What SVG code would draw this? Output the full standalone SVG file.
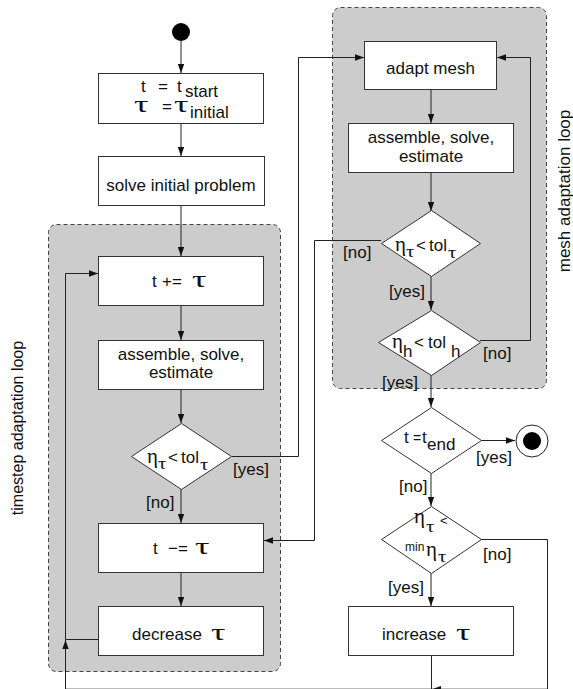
<svg xmlns="http://www.w3.org/2000/svg" width="573" height="689" viewBox="0 0 573 689">
  <style>
    .txt { font-family: "Liberation Sans", Arial, sans-serif; font-size: 17px; fill: #111; }
    .sm { font-size: 12px; }
    .gr { font-family: "Liberation Serif", "DejaVu Serif", serif; fill: #111; }
    .big { font-size: 24px; }
    .eta { font-size: 21px; }
    .sub { font-size: 16px; }
    .box { fill: #ffffff; stroke: #333; stroke-width: 1; }
    .region { fill: #cccccc; stroke: #444; stroke-width: 1; stroke-dasharray: 4 3; }
    .edge { fill: none; stroke: #222; stroke-width: 1; }
    .side { font-family: "Liberation Sans", Arial, sans-serif; font-size: 16px; fill: #111; }
  </style>
  <defs>
    <marker id="arrow" viewBox="0 0 10 7" refX="10" refY="3.5" markerWidth="9" markerHeight="6.3" markerUnits="userSpaceOnUse" orient="auto">
      <path d="M0,0 L10,3.5 L0,7 z" fill="#111"/>
    </marker>
  </defs>

  <rect width="573" height="689" fill="#ffffff"/>

  <!-- loop regions -->
  <g id="timestep-loop">
    <rect class="region" x="48.5" y="224.5" width="232" height="447" rx="8"/>
    <text class="side" transform="translate(23,428) rotate(-90)" text-anchor="middle">timestep adaptation loop</text>
  </g>
  <g id="mesh-loop">
    <rect class="region" x="332.5" y="7.5" width="214" height="381" rx="8"/>
    <text class="side" style="font-size:17px" transform="translate(570,191) rotate(-90)" text-anchor="middle">mesh adaptation loop</text>
  </g>

  <!-- connectors -->
  <g id="connectors">
    <path class="edge" d="M181,41 V73" marker-end="url(#arrow)"/>
    <path class="edge" d="M181,124 V156" marker-end="url(#arrow)"/>
    <path class="edge" d="M181,206 V256" marker-end="url(#arrow)"/>
    <path class="edge" d="M181,306 V340" marker-end="url(#arrow)"/>
    <path class="edge" d="M181,390 V423" marker-end="url(#arrow)"/>
    <path class="edge" d="M181,489 V523" marker-end="url(#arrow)"/>
    <path class="edge" d="M181,573 V606" marker-end="url(#arrow)"/>
    <path class="edge" d="M98,639.5 H65.5 V273.5 H98" marker-end="url(#arrow)"/>
    <path class="edge" d="M232,456.5 H298.5 V57.5 H364" marker-end="url(#arrow)"/>
    <path class="edge" d="M431,90 V123" marker-end="url(#arrow)"/>
    <path class="edge" d="M431,173 V211" marker-end="url(#arrow)"/>
    <path class="edge" d="M381,240.5 H314.5 V540.5 H264" marker-end="url(#arrow)"/>
    <path class="edge" d="M431,276 V310" marker-end="url(#arrow)"/>
    <path class="edge" d="M480,340.5 H530.5 V57.5 H497" marker-end="url(#arrow)"/>
    <path class="edge" d="M431,375 V407" marker-end="url(#arrow)"/>
    <path class="edge" d="M481,440.5 H515" marker-end="url(#arrow)"/>
    <path class="edge" d="M431,473 V506" marker-end="url(#arrow)"/>
    <path class="edge" d="M431,573 V606" marker-end="url(#arrow)"/>
    <path class="edge" d="M481,539.5 H547.5 V689.2 H432" marker-end="url(#arrow)"/>
    <path class="edge" d="M431.5,656 V689.2 H65.5 V640" marker-end="url(#arrow)"/>
    <!-- edge guards -->
    <text class="txt" x="233" y="475">[yes]</text>
    <text class="txt" x="146" y="508">[no]</text>
    <text class="txt" x="343" y="258">[no]</text>
    <text class="txt" x="389" y="297">[yes]</text>
    <text class="txt" x="483" y="359">[no]</text>
    <text class="txt" x="382" y="388">[yes]</text>
    <text class="txt" x="476" y="463">[yes]</text>
    <text class="txt" x="399" y="492">[no]</text>
    <text class="txt" x="483" y="560">[no]</text>
    <text class="txt" x="388" y="593">[yes]</text>
  </g>

  <!-- nodes -->
  <g id="start">
    <circle cx="181" cy="32" r="9" fill="#000"/>
  </g>
  <g id="init">
    <rect class="box" x="98.5" y="73.5" width="165" height="50"/>
    <text class="txt" x="141" y="92">t</text>
    <text class="txt" x="158" y="92">=</text>
    <text class="txt" x="177" y="92">t</text>
    <text class="txt" x="185" y="97">start</text>
    <text class="gr big" transform="translate(134,112) scale(1.5,1)">τ</text>
    <text class="txt" x="162" y="112">=</text>
    <text class="gr big" transform="translate(174,112) scale(1.5,1)">τ</text>
    <text class="txt" x="190" y="118">initial</text>
  </g>
  <g id="solve-initial">
    <rect class="box" x="98.5" y="156.5" width="166" height="49"/>
    <text class="txt" x="181" y="191" text-anchor="middle">solve initial problem</text>
  </g>
  <g id="advance">
    <rect class="box" x="98.5" y="256.5" width="165" height="49"/>
    <text class="txt" x="152" y="287">t</text>
    <text class="txt" x="162" y="287">+=</text>
    <text class="gr big" transform="translate(192,287) scale(1.5,1)">τ</text>
  </g>
  <g id="solve-step">
    <rect class="box" x="98.5" y="340.5" width="165" height="49"/>
    <text class="txt" x="181" y="360" text-anchor="middle">assemble, solve,</text>
    <text class="txt" x="181" y="378" text-anchor="middle">estimate</text>
  </g>
  <g id="check-time-error">
    <polygon class="box" points="181.5,423.5 231.5,456.5 181.5,489.5 131.5,456.5"/>
    <text class="gr eta" x="147" y="463">η</text>
    <text class="gr sub" transform="translate(158,469) scale(1.3,1)">τ</text>
    <text class="txt" x="168" y="463">&lt;</text>
    <text class="txt" x="181" y="463">tol</text>
    <text class="gr sub" transform="translate(200,470) scale(1.3,1)">τ</text>
  </g>
  <g id="rewind">
    <rect class="box" x="98.5" y="523.5" width="165" height="49"/>
    <text class="txt" x="153" y="554">t</text>
    <text class="txt" x="168" y="554">−=</text>
    <text class="gr big" transform="translate(195,554) scale(1.5,1)">τ</text>
  </g>
  <g id="decrease">
    <rect class="box" x="98.5" y="606.5" width="165" height="49"/>
    <text class="txt" x="132" y="640">decrease</text>
    <text class="gr big" transform="translate(211,640) scale(1.5,1)">τ</text>
  </g>

  <g id="adapt-mesh">
    <rect class="box" x="364.5" y="41.5" width="132" height="48"/>
    <text class="txt" x="430.5" y="74" text-anchor="middle">adapt mesh</text>
  </g>
  <g id="solve-mesh">
    <rect class="box" x="348.5" y="123.5" width="165" height="49"/>
    <text class="txt" x="431" y="143" text-anchor="middle">assemble, solve,</text>
    <text class="txt" x="431" y="162" text-anchor="middle">estimate</text>
  </g>
  <g id="check-time-error-mesh">
    <polygon class="box" points="431.5,210.5 480.5,243.5 431.5,276.5 381.5,243.5"/>
    <text class="gr eta" x="395" y="251">η</text>
    <text class="gr sub" transform="translate(406,257) scale(1.3,1)">τ</text>
    <text class="txt" x="416" y="251">&lt;</text>
    <text class="txt" x="429" y="251">tol</text>
    <text class="gr sub" transform="translate(448,258) scale(1.3,1)">τ</text>
  </g>
  <g id="check-space-error">
    <polygon class="box" points="431.5,310.5 480.5,342.5 431.5,375.5 378.5,342.5"/>
    <text class="gr eta" x="392" y="348">η</text>
    <text class="txt" x="403" y="357">h</text>
    <text class="txt" x="414" y="348">&lt;</text>
    <text class="txt" x="428" y="348">tol</text>
    <text class="txt" x="451" y="357">h</text>
  </g>
  <g id="check-end">
    <polygon class="box" points="431.5,407.5 481.5,440.5 431.5,473.5 381.5,440.5"/>
    <text class="txt" x="404" y="443">t</text>
    <text class="txt" style="font-size:14px" x="413" y="443">=</text>
    <text class="txt" x="422" y="443">t</text>
    <text class="txt" x="427" y="450">end</text>
  </g>
  <g id="end">
    <circle cx="532" cy="441" r="16" fill="#fff" stroke="#222" stroke-width="1"/>
    <circle cx="532" cy="441" r="9" fill="#000"/>
  </g>
  <g id="check-min-error">
    <polygon class="box" points="431.5,506.5 481.5,539.5 431.5,573.5 381.5,539.5"/>
    <text class="gr eta" x="414" y="523">η</text>
    <text class="gr sub" transform="translate(426,532) scale(1.3,1)">τ</text>
    <text class="txt" style="font-size:13px" x="440" y="525">&lt;</text>
    <text class="txt sm" x="405" y="551">min</text>
    <text class="gr eta" x="426" y="556">η</text>
    <text class="gr sub" transform="translate(438,562) scale(1.3,1)">τ</text>
  </g>
  <g id="increase">
    <rect class="box" x="348.5" y="606.5" width="165" height="49"/>
    <text class="txt" x="382" y="640">increase</text>
    <text class="gr big" transform="translate(456,640) scale(1.5,1)">τ</text>
  </g>
</svg>
